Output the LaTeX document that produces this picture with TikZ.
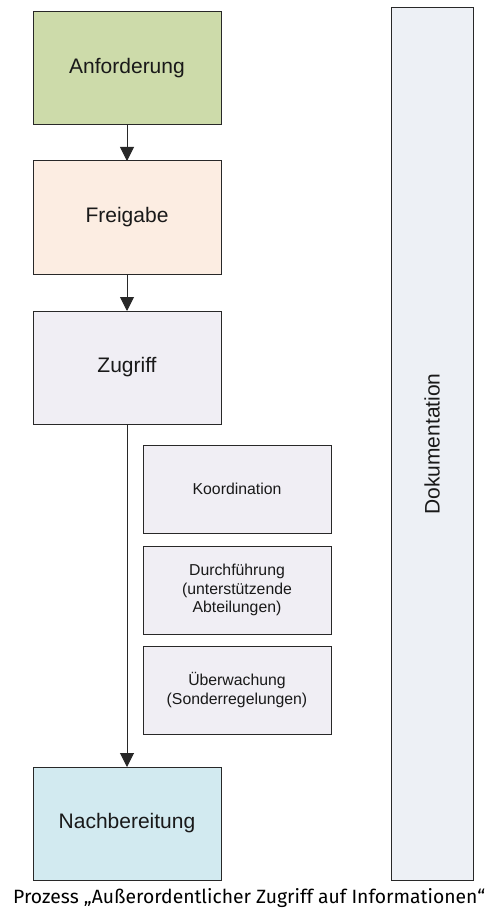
\documentclass[tikz,border=0pt]{standalone}
\usepackage{fontspec}
\setmainfont{Liberation Sans}
\newfontfamily\capfont{Fira Sans}
\usetikzlibrary{arrows.meta}
\definecolor{cA}{RGB}{205,219,170}
\definecolor{cF}{RGB}{252,237,226}
\definecolor{cZ}{RGB}{240,238,244}
\definecolor{cN}{RGB}{210,234,240}
\definecolor{cD}{RGB}{237,240,245}
\definecolor{ln}{RGB}{40,40,40}
\definecolor{tx}{RGB}{25,25,25}
\tikzset{
  bigbox/.style={draw=ln, line width=1pt, minimum width=188pt, minimum height=113pt, inner sep=0pt, outer sep=0pt, text=tx, font=\fontsize{21}{25}\selectfont},
  smallbox/.style={draw=ln, line width=1pt, fill=cZ, minimum width=188pt, minimum height=88pt, inner sep=0pt, outer sep=0pt, text=tx, align=center, font=\fontsize{15.8}{18.3}\selectfont},
  flow/.style={draw=ln, line width=1pt, -{Triangle[width=14pt,length=14pt]}}
}
\begin{document}
\begin{tikzpicture}[x=1pt,y=-1pt]
\useasboundingbox (0,0) rectangle (488,909);
\node[bigbox, fill=cA] (A) at (127,68.5) {Anforderung};
\node[bigbox, fill=cF] (F) at (127,217.5) {Freigabe};
\node[bigbox, fill=cZ] (Z) at (127,367.5) {Zugriff};
\node[bigbox, fill=cN] (N) at (127,823.5) {Nachbereitung};
\node[smallbox] (K) at (237,489) {Koordination};
\node[smallbox] (D) at (237,590) {Durchführung\\(unterstützende\\Abteilungen)};
\node[smallbox] (U) at (237,690) {Überwachung\\(Sonderregelungen)};
\node[draw=ln, line width=1pt, fill=cD, minimum width=82pt, minimum height=872pt, inner sep=0pt, outer sep=0pt] (Doc) at (432,444) {};
\node[rotate=90, text=tx, font=\fontsize{21}{25}\selectfont] (DocT) at (Doc.center) {Dokumentation};
\draw[flow] (A) -- (F);
\draw[flow] (F) -- (Z);
\draw[flow] (Z) -- (N);
\node[anchor=base west, inner sep=0pt, text=black] (cap) at (13,903) {\resizebox{472pt}{15pt}{\capfont\fontseries{l}\selectfont Prozess „Außerordentlicher Zugriff auf Informationen“}};
\end{tikzpicture}
\end{document}
